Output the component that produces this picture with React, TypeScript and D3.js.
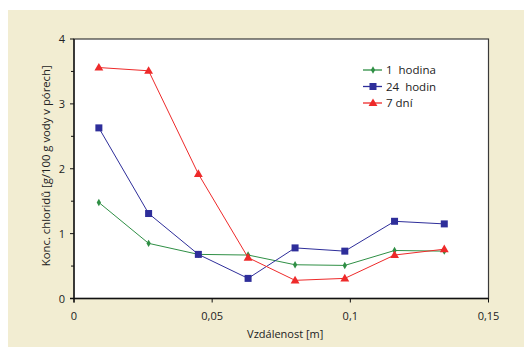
import * as d3 from "d3";

const distances = [0.009, 0.027, 0.045, 0.063, 0.08, 0.098, 0.116, 0.134];
const hour1 = [1.48, 0.85, 0.68, 0.67, 0.52, 0.51, 0.74, 0.73];
const hours24 = [2.63, 1.31, 0.68, 0.31, 0.78, 0.73, 1.19, 1.15];
const days7 = [3.56, 3.51, 1.92, 0.63, 0.28, 0.31, 0.67, 0.76];
const xTicks = [0, 0.05, 0.1, 0.15];
const yTicks = [0, 1, 2, 3, 4];
const yMinor = [0.5, 1.5, 2.5, 3.5];

const series = [
  { name: "1  hodina", values: hour1, color: "#2f8f45", shape: "diamond" },
  { name: "24  hodin", values: hours24, color: "#2e2e9a", shape: "square" },
  { name: "7 dní", values: days7, color: "#ee2a2a", shape: "triangle" },
];

const W = 524;
const H = 347;
const margin = { top: 39, right: 35.5, bottom: 48.5, left: 74 };
const font = "'Open Sans', 'DejaVu Sans', sans-serif";

function Marker({ shape, x, y, color }: { shape: string; x: number; y: number; color: string }) {
  if (shape === "square") return <rect x={x - 3.5} y={y - 3.5} width={7} height={7} fill={color} />;
  if (shape === "triangle") {
    const p = d3.symbol(d3.symbolTriangle, 34)();
    return <path d={p ?? ""} transform={`translate(${x},${y + 0.5})`} fill={color} />;
  }
  const p = d3.symbol(d3.symbolDiamond, 16)();
  return <path d={p ?? ""} transform={`translate(${x},${y})`} fill={color} />;
}

export default function App() {
  const innerW = W - margin.left - margin.right;
  const innerH = H - margin.top - margin.bottom;
  const x = d3.scaleLinear().domain([0, 0.15]).range([0, innerW]);
  const y = d3.scaleLinear().domain([0, 4]).range([innerH, 0]);
  const line = d3.line<number>().x((_, i) => x(distances[i])).y((v) => y(v));
  const fmt = (t: number) => String(t).replace(".", ",");

  return (
    <svg width={W} height={H} style={{ position: "absolute", left: 0, top: 0 }}>
      <rect x={8} y={10} width={W - 8} height={H - 10} fill="#f2edd2" />
      <g transform={`translate(${margin.left},${margin.top})`}>
        <rect x={0} y={0} width={innerW} height={innerH} fill="#fff" stroke="#3a3a3a" strokeWidth={1.2} />
        <line x1={0} x2={0} y1={0} y2={innerH + 4} stroke="#111" strokeWidth={1.3} />
        <line x1={-4} x2={innerW} y1={innerH} y2={innerH} stroke="#111" strokeWidth={1.3} />
        {yTicks.map((t) => (
          <g key={`y${t}`}>
            <line x1={-4} x2={0} y1={y(t)} y2={y(t)} stroke="#111" />
            <text x={-9} y={y(t) + 4} textAnchor="end" fontSize="11" fontFamily={font} fill="#222">{t}</text>
          </g>
        ))}
        {yMinor.map((t) => (
          <line key={`m${t}`} x1={-3} x2={0} y1={y(t)} y2={y(t)} stroke="#111" />
        ))}
        {xTicks.map((t) => (
          <g key={`x${t}`}>
            <line x1={x(t)} x2={x(t)} y1={innerH} y2={innerH + 4} stroke="#111" />
            <text x={x(t)} y={innerH + 21} textAnchor="middle" fontSize="11" fontFamily={font} fill="#222">{fmt(t)}</text>
          </g>
        ))}
        {series.map((s) => (
          <g key={s.name}>
            <path d={line(s.values) ?? ""} fill="none" stroke={s.color} strokeWidth={1} />
            {s.values.map((v, i) => (
              <Marker key={i} shape={s.shape} x={x(distances[i])} y={y(v)} color={s.color} />
            ))}
          </g>
        ))}
        {series.map((s, i) => {
          const ly = 31 + i * 16.5;
          return (
            <g key={`l${s.name}`} transform={`translate(289,${ly})`}>
              <line x1={0} x2={19} y1={0} y2={0} stroke={s.color} strokeWidth={1.3} />
              <Marker shape={s.shape} x={10} y={0} color={s.color} />
              <text x={23} y={4} fontSize="11.5" fontFamily={font} fill="#222" style={{ whiteSpace: "pre" }}>{s.name}</text>
            </g>
          );
        })}
        <text x={innerW / 2 + 4} y={innerH + 39} textAnchor="middle" fontSize="11" fontFamily={font} fill="#222">Vzdálenost [m]</text>
        <text transform={`translate(-24,${innerH / 2 - 3}) rotate(-90)`} textAnchor="middle" fontSize="11.3" fontFamily={font} fill="#222">Konc. chloridů [g/100 g vody v pórech]</text>
      </g>
    </svg>
  );
}
